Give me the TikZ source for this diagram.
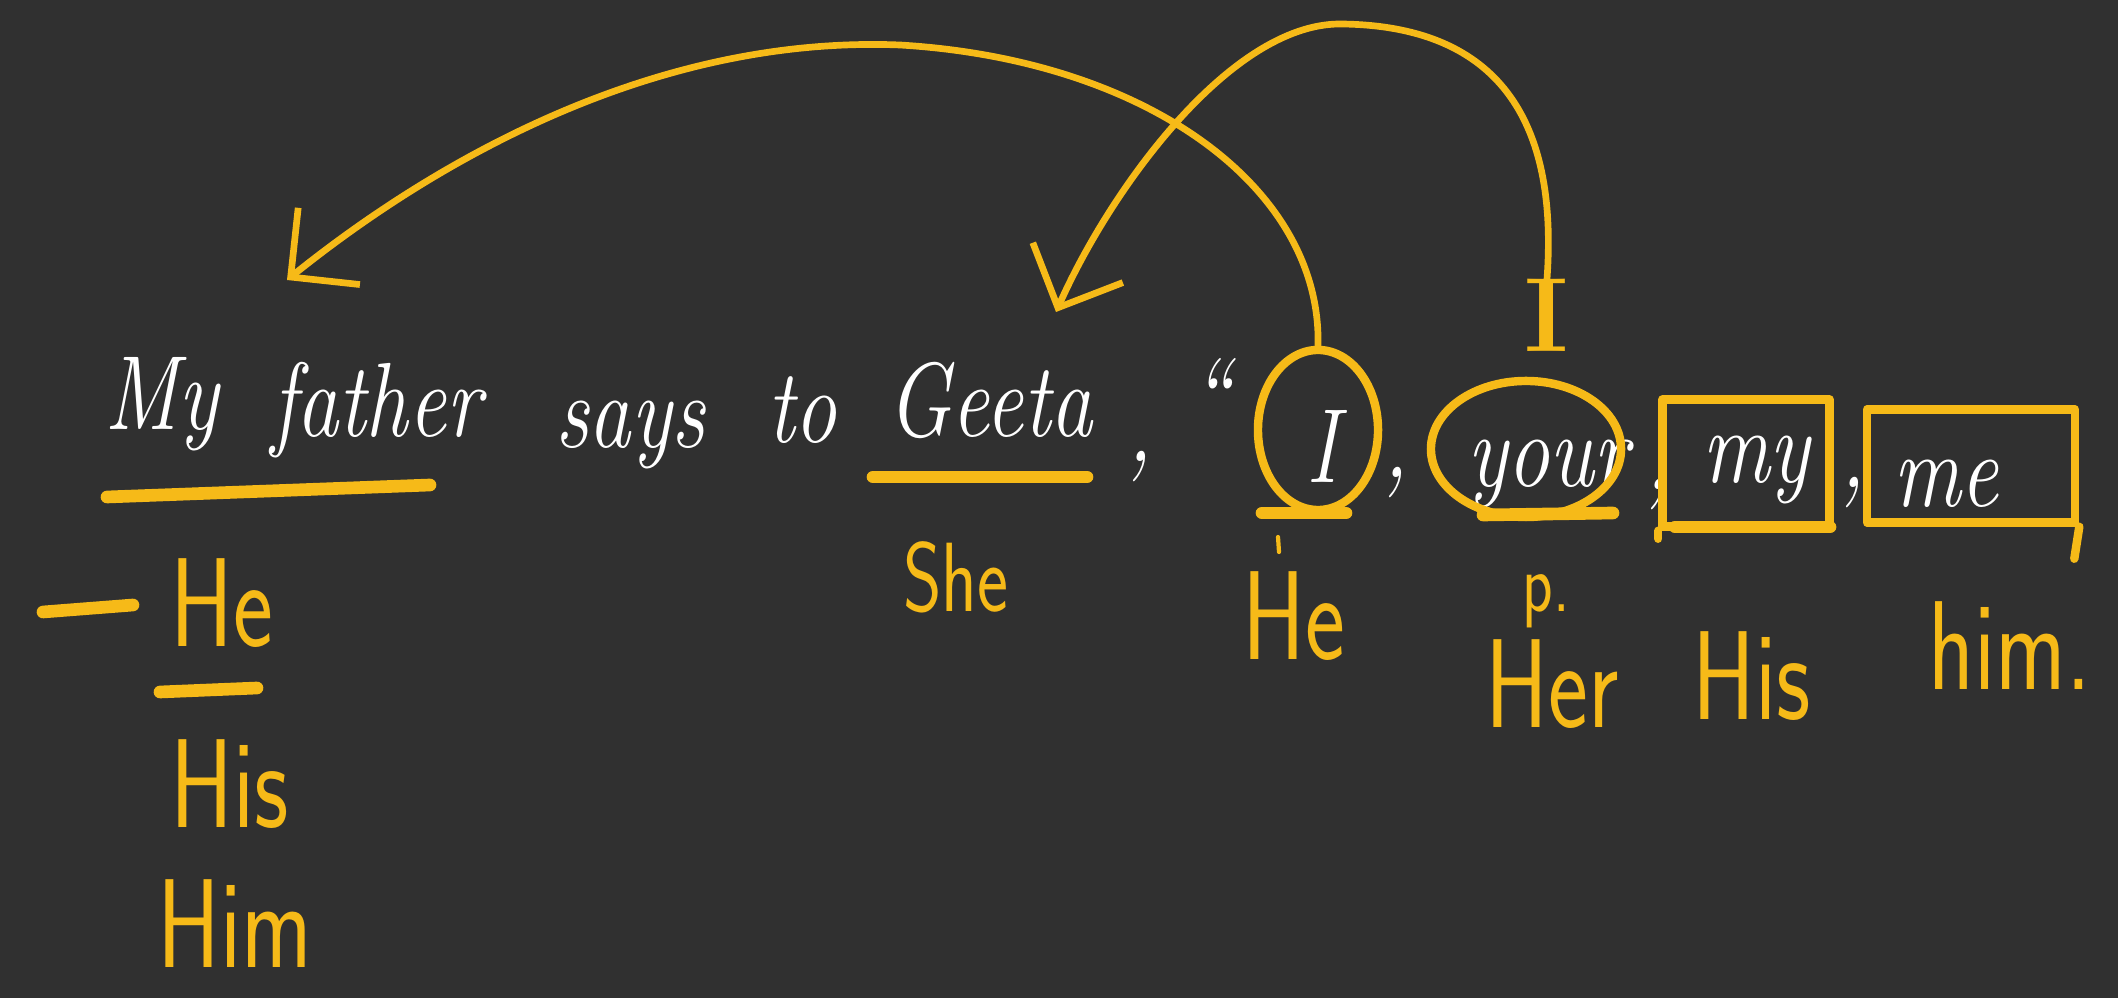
\documentclass[tikz,border=0pt]{standalone}
\usepackage{graphicx}
\usetikzlibrary{arrows.meta,shapes.geometric}
\definecolor{board}{RGB}{48,48,48}
\definecolor{marker}{RGB}{246,186,24}
\newcommand{\chalk}[1]{\scalebox{0.8}[1]{\itshape #1}}
\newcommand{\pen}[1]{\scalebox{0.75}[1]{\sffamily #1}}
\begin{document}
\begin{tikzpicture}[x=0.01cm, y=-0.01cm, line join=round, line cap=round,
	chalk/.style={text=white, font=\fontsize{30}{32}\selectfont, inner sep=0pt, anchor=base},
	pen/.style={text=marker, font=\fontsize{36}{38}\selectfont, inner sep=0pt, anchor=base},
	hl/.style={draw=marker, line width=2.4pt},
	uline/.style={draw=marker, line width=3.6pt},
	arc/.style={draw=marker, line width=1.9pt, -{Straight Barb[length=14pt,width=28pt]}}]
	\fill[board] (0,0) rectangle (2118,998);
	\useasboundingbox (0,0) rectangle (2118,998);
	% the sentence
	\node[chalk] (wMy) at (162,430) {\chalk{My}};
	\node[chalk] (wFather) at (376,437) {\chalk{father}};
	\node[chalk] (wSays) at (630,448) {\chalk{says}};
	\node[chalk] (wTo) at (802,443) {\chalk{to}};
	\node[chalk] (wGeeta) at (990,437) {\chalk{Geeta}};
	\node[chalk] (cA) at (1140,462) {\chalk{,}};
	\node[chalk] (wQuote) at (1212,432) {\chalk{``}};
	\node[chalk] (wI) at (1322,483) {\chalk{I}};
	\node[chalk] (cB) at (1396,478) {\chalk{,}};
	\node[chalk] (wYour) at (1548,487) {\chalk{your}};
	\node[chalk] (cC) at (1658,490) {\chalk{,}};
	\node[chalk] (wMine) at (1756,483) {\chalk{my}};
	\node[chalk] (cD) at (1853,488) {\chalk{,}};
	\node[chalk] (wMe) at (1946,507) {\chalk{me}};
	% circles and boxes
	\node[hl, ellipse, minimum width=1.2cm, minimum height=1.6cm] (oI) at (1318,430) {};
	\node[hl, ellipse, minimum width=1.9cm, minimum height=1.36cm] (oYour) at (1526,449) {};
	\node[hl, rectangle, minimum width=1.67cm, minimum height=1.27cm] (bMine) at (1746,463) {};
	\node[hl, rectangle, minimum width=2.08cm, minimum height=1.13cm] (bMe) at (1971,466) {};
	\draw[hl] (bMe.south east) -- ++(-5,32);
	\draw[hl] (bMine.south west) -- ++(0,8);
	% underlines
	\draw[uline] (107,497) -- (430,485);
	\draw[uline] (873,477) -- (1087,477);
	\draw[uline] (1262,513) -- (1346,513);
	\draw[uline] (1483,515) -- (1613,513);
	\draw[uline] (1675,527) -- (1830,527);
	% pronouns in yellow
	\draw[uline] (43,612) -- (133,605);
	\node[pen] (lHe) at (222,647) {\pen{He}};
	\draw[uline] (160,692) -- (257,688);
	\node[pen] (lHis) at (230,828) {\pen{His}};
	\node[pen] (lHim) at (235,968) {\pen{Him}};
	\node[pen, font=\fontsize{28}{30}\selectfont] (lShe) at (956,612) {\pen{She}};
	\draw[hl, line width=1.2pt] (1278,537) -- (1279,552);
	\node[pen] (lHeB) at (1294,660) {\pen{He}};
	\node[pen, font=\fontsize{24}{26}\selectfont] (lP) at (1546,612) {\pen{p.}};
	\node[pen] (lHer) at (1552,728) {\pen{Her}};
	\node[pen] (lHisB) at (1752,720) {\pen{His}};
	\node[pen] (lHimB) at (2010,690) {\pen{him.}};
	\node[pen, font=\fontsize{30}{32}\selectfont\bfseries] (rI) at (1547,352) {I};
	% arrows
	\coordinate (fTip) at (287,280);
	\coordinate (gTip) at (1056,312);
	\draw[arc] (oI.north) .. controls (1322,190) and (1150,60) .. (900,45)
		.. controls (650,35) and (430,165) .. (fTip);
	\draw[arc] (rI.north) .. controls (1560,100) and (1480,25) .. (1340,24)
		.. controls (1230,24) and (1110,190) .. (gTip);
\end{tikzpicture}
\end{document}
